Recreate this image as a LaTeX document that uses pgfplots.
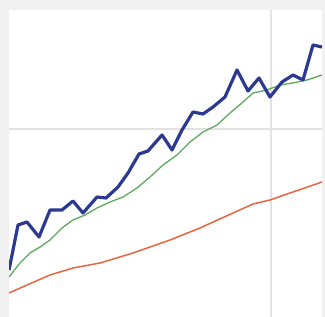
\documentclass[border=0pt]{standalone}
\usepackage{pgfplots}
\pgfplotsset{compat=1.18}
\definecolor{bgray}{HTML}{F1F1F1}
\definecolor{gridc}{HTML}{E2E2E2}
\definecolor{cblue}{HTML}{2B3990}
\definecolor{cgreen}{HTML}{5DAA5D}
\definecolor{cred}{HTML}{EA6440}
\begin{document}
\begin{tikzpicture}
\fill[bgray] (0,0) rectangle (325bp,317bp);
\begin{axis}[
  at={(9bp,0bp)}, anchor=south west,
  scale only axis, width=313bp, height=307bp,
  xmin=9, xmax=322, ymin=0, ymax=307,
  axis line style={draw=none},
  tick style={draw=none},
  axis background/.style={fill=white},
  xtick={271}, ytick={188},
  xticklabels={}, yticklabels={},
  xmajorgrids, ymajorgrids,
  grid style={draw=gridc, line width=1.6pt},
  clip=true,
]
\addplot[cred, line width=1.5pt] coordinates {
(9,24) (27,32) (50,42) (73,49) (100,54) (133,64) (170,77) (200,89) (233,104) (253,113) (270,117) (290,124) (322,135)
};
\addplot[cgreen, line width=1.3pt] coordinates {
(9,40) (20,54) (30,64) (40,70) (50,77) (62,89) (73,97) (85,102) (97,109) (110,115) (123,120) (137,129) (150,140) (163,152) (177,162) (190,175) (203,185) (217,192) (230,204) (243,215) (253,224) (267,227) (280,232) (293,234) (307,237) (322,242)
};
\addplot[cblue, line width=3.2pt, line join=round] coordinates {
(9,47) (18,92) (27,95) (39,80) (50,107) (62,107) (73,116) (83,104) (97,120) (106,119) (118,130) (128,144) (139,163) (148,166) (162,182) (172,167) (182,187) (193,205) (203,203) (213,210) (225,220) (237,247) (248,226) (259,239) (270,220) (282,235) (293,242) (303,237) (313,272) (322,270)
};
\end{axis}
\pgfresetboundingbox
\useasboundingbox (0,0) rectangle (325bp,317bp);
\end{tikzpicture}
\end{document}
